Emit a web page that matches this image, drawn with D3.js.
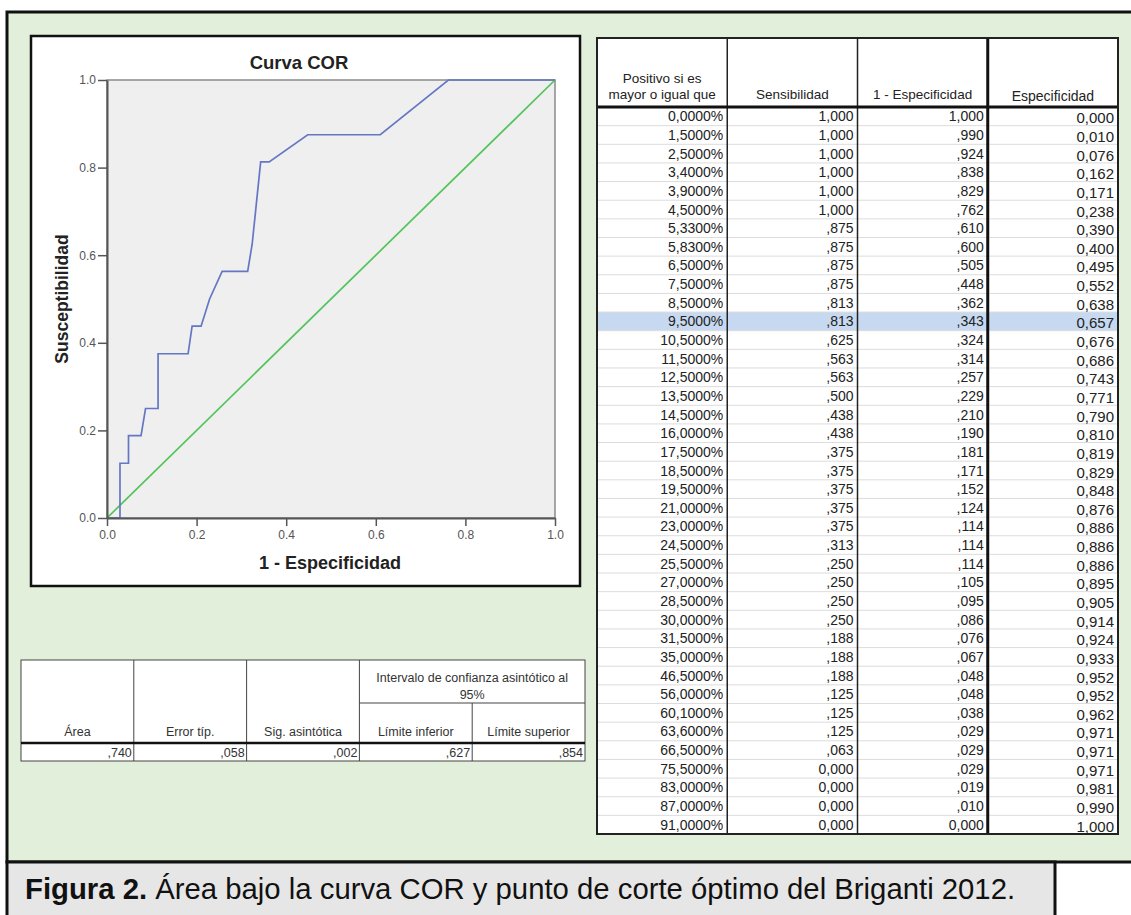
<!DOCTYPE html>
<html>
<head>
<meta charset="utf-8">
<script src="https://cdnjs.cloudflare.com/ajax/libs/d3/7.8.5/d3.min.js"></script>
<style>
  body { margin: 0; background: #ffffff; }
  svg text { font-family: "Liberation Sans", Arial, sans-serif; }
</style>
</head>
<body>
<div id="graph"></div>
<script>
// data
var thresholds = [0, 1.5, 2.5, 3.4, 3.9, 4.5, 5.33, 5.83, 6.5, 7.5, 8.5, 9.5, 10.5, 11.5, 12.5, 13.5, 14.5, 16, 17.5, 18.5,
  19.5, 21, 23, 24.5, 25.5, 27, 28.5, 30, 31.5, 35, 46.5, 56, 60.1, 63.6, 66.5, 75.5, 83, 87, 91];
var sensitivity = [1, 1, 1, 1, 1, 1, .875, .875, .875, .875, .813, .813, .625, .563, .563, .5, .438, .438, .375, .375,
  .375, .375, .375, .313, .25, .25, .25, .25, .188, .188, .188, .125, .125, .125, .063, 0, 0, 0, 0];
var oneMinusSpec = [1, .99, .924, .838, .829, .762, .61, .6, .505, .448, .362, .343, .324, .314, .257, .229, .21, .19, .181, .171,
  .152, .124, .114, .114, .114, .105, .095, .086, .076, .067, .048, .048, .038, .029, .029, .029, .019, .01, 0];
var specificity = [0, .01, .076, .162, .171, .238, .39, .4, .495, .552, .638, .657, .676, .686, .743, .771, .79, .81, .819, .829,
  .848, .876, .886, .886, .886, .895, .905, .914, .924, .933, .952, .952, .962, .971, .971, .971, .981, .99, 1];
var optimalCut = 9.5;

var refLine = [[0, 0], [1, 1]];
var axisTicks = [0, 0.2, 0.4, 0.6, 0.8, 1.0];

var rocHeaders = [["Positivo si es", "mayor o igual que"], ["Sensibilidad"], ["1 - Especificidad"], ["Especificidad"]];
var aucHeaders = ["Área", "Error típ.", "Sig. asintótica", "Límite inferior", "Límite superior"];
var aucValues = [.740, .058, .002, .627, .854];
var ciHeader = ["Intervalo de confianza asintótico al", "95%"];

var captionBold = "Figura 2.";
var captionText = " Área bajo la curva COR y punto de corte óptimo del Briganti 2012.";

// number formats (spss style, comma decimals)
var f3 = d3.format(".3f"), f4 = d3.format(".4f");
function spss(v) {
  var s = f3(v).replace(".", ",");
  return (v > 0 && v < 1) ? s.replace(/^0/, "") : s;
}
function fixed3(v) { return f3(v).replace(".", ","); }
function pct(v) { return f4(v).replace(".", ",") + "%"; }

var W = 1131, H = 915;
var svg = d3.select("#graph").append("svg")
  .attr("width", W)
  .attr("height", H);

// background panels
svg.append("rect").attr("x", 7).attr("y", 12).attr("width", 1140).attr("height", 850)
  .attr("fill", "#e2efda").attr("stroke", "#111").attr("stroke-width", 3);
svg.append("rect").attr("x", 7).attr("y", 862).attr("width", 1048).attr("height", 70)
  .attr("fill", "#e7e6e6").attr("stroke", "#111").attr("stroke-width", 3);

var cap = svg.append("text").attr("x", 25).attr("y", 899)
  .attr("font-size", 29.3).attr("fill", "#111");
cap.append("tspan").attr("font-weight", "bold").text(captionBold);
cap.append("tspan").text(captionText);

// ---------- ROC chart ----------
svg.append("rect").attr("x", 31).attr("y", 36).attr("width", 549).attr("height", 550)
  .attr("fill", "#fff").attr("stroke", "#111").attr("stroke-width", 2.5);

var x = d3.scaleLinear().domain([0, 1]).range([107, 555]);
var y = d3.scaleLinear().domain([0, 1]).range([518, 80]);

var plot = svg.append("g");
plot.append("rect")
  .attr("x", x(0)).attr("y", y(1))
  .attr("width", x(1) - x(0)).attr("height", y(0) - y(1))
  .attr("fill", "#efefef").attr("stroke", "#8a8a8a").attr("stroke-width", 1.5);

// diagonal reference
plot.append("path")
  .datum(refLine)
  .attr("d", d3.line().x(function(d) { return x(d[0]); }).y(function(d) { return y(d[1]); }))
  .attr("fill", "none").attr("stroke", "#52c45a").attr("stroke-width", 1.7);

// roc curve
var rocPts = oneMinusSpec.map(function(v, i) { return [v, sensitivity[i]]; });
plot.append("path")
  .datum(rocPts)
  .attr("d", d3.line().x(function(d) { return x(d[0]); }).y(function(d) { return y(d[1]); }))
  .attr("fill", "none").attr("stroke", "#6477c4").attr("stroke-width", 1.7);

var xAxis = svg.append("g").attr("transform", "translate(0," + y(0) + ")")
  .call(d3.axisBottom(x).tickValues(axisTicks).tickFormat(d3.format(".1f")).tickSize(8).tickPadding(4).tickSizeOuter(0));
var yAxis = svg.append("g").attr("transform", "translate(" + x(0) + ",0)")
  .call(d3.axisLeft(y).tickValues(axisTicks).tickFormat(d3.format(".1f")).tickSize(9).tickPadding(2).tickSizeOuter(0));
[xAxis, yAxis].forEach(function(a) {
  a.select(".domain").attr("stroke", "#555").attr("stroke-width", 2);
  a.selectAll(".tick line").attr("stroke", "#555").attr("stroke-width", 1.5);
  a.selectAll(".tick text").attr("fill", "#555").attr("font-size", 12)
    .attr("font-family", "'Liberation Sans', Arial, sans-serif");
});

svg.append("text").attr("x", 299).attr("y", 69).attr("text-anchor", "middle")
  .attr("font-size", 18.5).attr("font-weight", "bold").attr("fill", "#222").text("Curva COR");
svg.append("text").attr("x", 330).attr("y", 569).attr("text-anchor", "middle")
  .attr("font-size", 18).attr("font-weight", "bold").attr("fill", "#222").text("1 - Especificidad");
svg.append("text").attr("transform", "translate(68," + ((y(0) + y(1)) / 2) + ") rotate(-90)")
  .attr("text-anchor", "middle")
  .attr("font-size", 17.5).attr("font-weight", "bold").attr("fill", "#222").text("Susceptibilidad");

// ---------- AUC table ----------
var ac = d3.scaleBand().domain(d3.range(aucHeaders.length)).range([21, 585]);
var aTop = 660, aMid = 703, aHead = 743, aBot = 761;
var auc = svg.append("g");
auc.append("rect").attr("x", 21).attr("y", aTop).attr("width", 564).attr("height", aBot - aTop)
  .attr("fill", "#fff").attr("stroke", "#444").attr("stroke-width", 1);
auc.append("line").attr("x1", ac(3)).attr("x2", 585).attr("y1", aMid).attr("y2", aMid)
  .attr("stroke", "#444").attr("stroke-width", 1);
auc.selectAll("line.col").data(d3.range(1, aucHeaders.length)).enter().append("line")
  .attr("class", "col")
  .attr("x1", function(d) { return ac(d); }).attr("x2", function(d) { return ac(d); })
  .attr("y1", function(d) { return d === 4 ? aMid : aTop; }).attr("y2", aBot)
  .attr("stroke", "#444").attr("stroke-width", 1);
auc.append("line").attr("x1", 21).attr("x2", 585).attr("y1", aHead).attr("y2", aHead)
  .attr("stroke", "#111").attr("stroke-width", 2.5);
auc.selectAll("text.ci").data(ciHeader).enter().append("text")
  .attr("x", (ac(3) + 585) / 2).attr("y", function(d, i) { return 682 + i * 17; })
  .attr("text-anchor", "middle").attr("font-size", 12.5).attr("fill", "#333").text(function(d) { return d; });
auc.selectAll("text.hd").data(aucHeaders).enter().append("text")
  .attr("x", function(d, i) { return ac(i) + ac.bandwidth() / 2; }).attr("y", 736)
  .attr("text-anchor", "middle").attr("font-size", 12.5).attr("fill", "#333").text(function(d) { return d; });
auc.selectAll("text.val").data(aucValues).enter().append("text")
  .attr("x", function(d, i) { return ac(i) + ac.bandwidth() - 2; }).attr("y", 757)
  .attr("text-anchor", "end").attr("font-size", 12.5).attr("fill", "#333").text(function(d) { return spss(d); });

// ---------- coordinates table ----------
var tc = d3.scaleBand().domain(d3.range(4)).range([597, 1118]);
var tTop = 38, tHead = 107, tBot = 834;
var tr = d3.scaleBand().domain(d3.range(thresholds.length)).range([tHead, tBot]);
var tab = svg.append("g");
tab.append("rect").attr("x", 597).attr("y", tTop).attr("width", 521).attr("height", tBot - tTop)
  .attr("fill", "#fff");

// highlighted optimal cut-off row
var hi = thresholds.indexOf(optimalCut);
tab.append("rect").attr("x", 597).attr("y", tr(hi)).attr("width", 521).attr("height", tr.bandwidth())
  .attr("fill", "#c6d9f0");

tab.selectAll("line.row").data(d3.range(1, thresholds.length)).enter().append("line")
  .attr("x1", 597).attr("x2", 1118)
  .attr("y1", function(d) { return tr(d); }).attr("y2", function(d) { return tr(d); })
  .attr("stroke", "#dcdcdc").attr("stroke-width", 1);

var rows = thresholds.map(function(t, i) {
  return [pct(t), spss(sensitivity[i]), spss(oneMinusSpec[i]), fixed3(specificity[i])];
});
rows.forEach(function(r, i) {
  tab.selectAll(null).data(r).enter().append("text")
    .attr("x", function(d, j) { return tc(j) + tc.bandwidth() - 4; })
    .attr("y", function(d, j) { return tr(i) + tr.bandwidth() / 2 + (j === 3 ? 7 : 5); })
    .attr("text-anchor", "end")
    .attr("font-size", function(d, j) { return j === 3 ? 15 : 14; })
    .attr("fill", "#222")
    .text(function(d) { return d; });
});

// header
rocHeaders.forEach(function(h, j) {
  tab.selectAll(null).data(h).enter().append("text")
    .attr("x", tc(j) + tc.bandwidth() / 2)
    .attr("y", function(d, k) { return 99 - (h.length - 1 - k) * 16 + (j === 3 ? 2 : 0); })
    .attr("text-anchor", "middle")
    .attr("font-size", j === 3 ? 14 : 13.5)
    .attr("fill", "#222")
    .text(function(d) { return d; });
});

// column rules
tab.selectAll("line.col").data([1, 2]).enter().append("line")
  .attr("x1", function(d) { return tc(d); }).attr("x2", function(d) { return tc(d); })
  .attr("y1", tTop).attr("y2", tBot)
  .attr("stroke", "#222").attr("stroke-width", 1.5);
tab.append("line").attr("x1", tc(3)).attr("x2", tc(3)).attr("y1", tTop).attr("y2", tBot)
  .attr("stroke", "#111").attr("stroke-width", 3);
tab.append("line").attr("x1", 597).attr("x2", 1118).attr("y1", tHead).attr("y2", tHead)
  .attr("stroke", "#111").attr("stroke-width", 3);
tab.append("rect").attr("x", 597).attr("y", tTop).attr("width", 521).attr("height", tBot - tTop)
  .attr("fill", "none").attr("stroke", "#222").attr("stroke-width", 2);
</script>
</body>
</html>
